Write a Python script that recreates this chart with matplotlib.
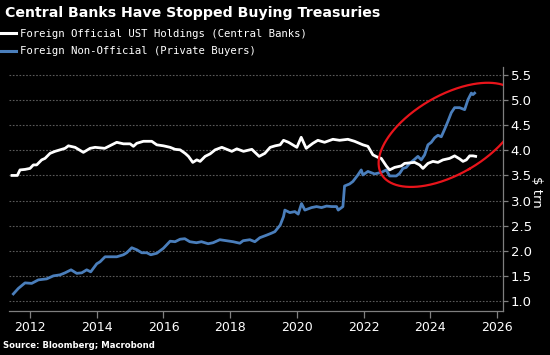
import numpy as np
import matplotlib
matplotlib.use("Agg")
import matplotlib.pyplot as plt

# ---- data ----
official_years = [2011.46, 2011.62, 2011.70, 2011.85, 2012.00, 2012.10, 2012.20, 2012.35, 2012.45, 2012.60,
                  2012.75, 2012.90, 2013.05, 2013.15, 2013.35, 2013.60, 2013.80, 2013.95, 2014.24, 2014.45,
                  2014.60, 2014.80, 2015.00, 2015.10, 2015.20, 2015.40, 2015.65, 2015.80, 2016.00, 2016.20,
                  2016.35, 2016.50, 2016.65, 2016.75, 2016.88, 2017.00, 2017.10, 2017.25, 2017.40, 2017.55,
                  2017.75, 2017.90, 2018.05, 2018.20, 2018.40, 2018.65, 2018.87, 2019.04, 2019.20, 2019.35,
                  2019.50, 2019.60, 2019.75, 2020.00, 2020.13, 2020.28, 2020.48, 2020.63, 2020.83, 2021.08,
                  2021.28, 2021.53, 2021.73, 2021.98, 2022.13, 2022.28, 2022.43, 2022.53, 2022.68, 2022.78,
                  2022.93, 2023.13, 2023.23, 2023.53, 2023.68, 2023.78, 2023.93, 2024.08, 2024.23, 2024.38,
                  2024.58, 2024.73, 2024.88, 2024.98, 2025.08, 2025.18, 2025.28, 2025.36]
official_vals = [3.50, 3.50, 3.61, 3.62, 3.64, 3.71, 3.71, 3.81, 3.84, 3.94,
                 3.98, 4.01, 4.04, 4.09, 4.06, 3.96, 4.04, 4.06, 4.04, 4.11,
                 4.16, 4.13, 4.13, 4.08, 4.14, 4.18, 4.18, 4.11, 4.09, 4.06,
                 4.02, 4.01, 3.94, 3.88, 3.76, 3.81, 3.78, 3.88, 3.93, 4.01,
                 4.06, 4.02, 3.98, 4.03, 3.98, 4.02, 3.88, 3.94, 4.06, 4.09,
                 4.11, 4.20, 4.16, 4.06, 4.26, 4.04, 4.14, 4.20, 4.16, 4.22,
                 4.20, 4.22, 4.18, 4.11, 4.08, 3.91, 3.86, 3.84, 3.69, 3.61,
                 3.66, 3.69, 3.74, 3.76, 3.71, 3.64, 3.74, 3.78, 3.76, 3.81,
                 3.84, 3.89, 3.83, 3.78, 3.81, 3.89, 3.89, 3.88]

private_years = [2011.50, 2011.65, 2011.85, 2012.05, 2012.25, 2012.50, 2012.70, 2012.90, 2013.05, 2013.23,
                 2013.40, 2013.55, 2013.70, 2013.82, 2014.00, 2014.10, 2014.25, 2014.40, 2014.60, 2014.80,
                 2014.90, 2015.05, 2015.20, 2015.35, 2015.50, 2015.62, 2015.80, 2016.00, 2016.20, 2016.35,
                 2016.50, 2016.64, 2016.79, 2016.99, 2017.14, 2017.34, 2017.49, 2017.69, 2017.89, 2018.09,
                 2018.29, 2018.39, 2018.59, 2018.74, 2018.89, 2019.09, 2019.24, 2019.34, 2019.50, 2019.60,
                 2019.64, 2019.79, 2019.94, 2020.04, 2020.14, 2020.24, 2020.44, 2020.59, 2020.74, 2020.89,
                 2021.04, 2021.19, 2021.24, 2021.38, 2021.43, 2021.58, 2021.68, 2021.83, 2021.93, 2021.98,
                 2022.13, 2022.33, 2022.53, 2022.68, 2022.78, 2022.98, 2023.08, 2023.18, 2023.28, 2023.38,
                 2023.51, 2023.63, 2023.73, 2023.83, 2023.93, 2024.03, 2024.13, 2024.23, 2024.33, 2024.43,
                 2024.53, 2024.63, 2024.73, 2024.88, 2025.03, 2025.13, 2025.23, 2025.28, 2025.33]
private_vals = [1.14, 1.25, 1.36, 1.35, 1.42, 1.44, 1.50, 1.52, 1.56, 1.62,
                1.55, 1.56, 1.62, 1.58, 1.74, 1.78, 1.88, 1.88, 1.88, 1.92,
                1.96, 2.06, 2.02, 1.96, 1.96, 1.92, 1.95, 2.05, 2.19, 2.18,
                2.23, 2.24, 2.18, 2.16, 2.18, 2.14, 2.16, 2.22, 2.20, 2.18,
                2.15, 2.20, 2.22, 2.18, 2.26, 2.31, 2.35, 2.38, 2.51, 2.68,
                2.81, 2.76, 2.78, 2.73, 2.94, 2.81, 2.86, 2.88, 2.86, 2.89,
                2.88, 2.88, 2.81, 2.88, 3.29, 3.33, 3.38, 3.51, 3.61, 3.51,
                3.58, 3.53, 3.56, 3.61, 3.49, 3.49, 3.54, 3.64, 3.66, 3.74,
                3.81, 3.88, 3.81, 3.91, 4.11, 4.16, 4.25, 4.30, 4.27, 4.42,
                4.58, 4.75, 4.85, 4.85, 4.81, 5.01, 5.14, 5.11, 5.14]

x_ticks = [2012, 2014, 2016, 2018, 2020, 2022, 2024, 2026]
y_ticks = [1.0, 1.5, 2.0, 2.5, 3.0, 3.5, 4.0, 4.5, 5.0, 5.5]

title = "Central Banks Have Stopped Buying Treasuries"
label_official = "Foreign Official UST Holdings (Central Banks)"
label_private = "Foreign Non-Official (Private Buyers)"
source = "Source: Bloomberg; Macrobond"
unit = "$ trn"

# ---- figure ----
W, H = 550, 355
fig = plt.figure(figsize=(W / 100, H / 100), dpi=100, facecolor="black")
ax = fig.add_axes([9 / W, 1 - 311 / H, (503 - 9) / W, (311 - 67) / H])
ax.set_facecolor("black")

blue = "#4a7ebb"
l2, = ax.plot(private_years, private_vals, color=blue, lw=2.0, solid_joinstyle="round", zorder=3)
l1, = ax.plot(official_years, official_vals, color="white", lw=2.0, solid_joinstyle="round", zorder=4)

ax.set_xlim(2011.37, 2026.18)
ax.set_ylim(0.80, 5.66)

ax.set_xticks(x_ticks)
ax.set_xticklabels([str(t) for t in x_ticks])
ax.set_yticks(y_ticks)
ax.set_yticklabels([f"{t:.1f}" for t in y_ticks])
ax.yaxis.tick_right()
ax.yaxis.set_label_position("right")

spine_c = "#7f7f7f"
for s in ["left", "top"]:
    ax.spines[s].set_visible(False)
for s in ["bottom", "right"]:
    ax.spines[s].set_color(spine_c)
    ax.spines[s].set_linewidth(0.9)

ax.tick_params(axis="x", colors=spine_c, length=5, width=0.9, labelcolor="white",
               labelsize=9, pad=2)
ax.tick_params(axis="y", colors=spine_c, length=3.5, width=0.9, labelcolor="white",
               labelsize=9.5, pad=2)

ax.grid(axis="y", color="#5a5a5a", linestyle=(0, (1.5, 1.5)), linewidth=0.8)
ax.set_axisbelow(True)

ax.set_ylabel(unit, color="white", fontsize=9.5, rotation=270, labelpad=8)
ax.yaxis.label.set_position((1, 0.49))

# ---- red ellipse annotation: conic fitted through outline points (pixel geometry) ----
ring_px = np.array([(378, 167), (380, 155), (385, 143), (392, 133), (402, 122), (415, 110),
                    (432, 98), (452, 90), (472, 85), (492, 83), (502, 85),
                    (382, 175), (392, 183), (405, 187), (422, 187), (442, 181),
                    (462, 172), (482, 160), (502, 145)], float)
ox, oy, sc = 450.0, 135.0, 100.0
xs = (ring_px[:, 0] - ox) / sc
ys = (ring_px[:, 1] - oy) / sc
Dm = np.column_stack([xs ** 2, xs * ys, ys ** 2, xs, ys, np.ones_like(xs)])
_, _, vt = np.linalg.svd(Dm)
A, B, C, Dc, Ec, Fc = vt[-1]
x0, y0 = np.linalg.solve([[2 * A, B], [B, 2 * C]], [-Dc, -Ec])
Fp = A * x0 ** 2 + B * x0 * y0 + C * y0 ** 2 + Dc * x0 + Ec * y0 + Fc
lam, vec = np.linalg.eigh(np.array([[A, B / 2], [B / 2, C]]))
r = np.sqrt(-Fp / lam)
t = np.linspace(0, 2 * np.pi, 400)
ex = x0 + r[0] * np.cos(t) * vec[0, 0] + r[1] * np.sin(t) * vec[0, 1]
ey = y0 + r[0] * np.cos(t) * vec[1, 0] + r[1] * np.sin(t) * vec[1, 1]
px = ex * sc + ox
py = ey * sc + oy
dat = ax.transData.inverted().transform(np.column_stack([px, H - py]))
ax.plot(dat[:, 0], dat[:, 1], color="#e8141b", lw=1.6, zorder=5, clip_on=True)

# ---- texts ----
fig.text(5 / W, 1 - 12.5 / H, title, color="white", fontsize=10.2, fontweight="bold",
         va="center", ha="left")
fig.text(3 / W, 1 - 345 / H, source, color="white", fontsize=6.1, fontweight="bold",
         va="center", ha="left")

leg = fig.legend([l1, l2], [label_official, label_private], loc="upper left",
                 bbox_to_anchor=(1 / W, 1 - 29 / H), frameon=False,
                 prop={"family": "DejaVu Sans Mono", "size": 7.7},
                 handlelength=1.4, handletextpad=0.35, borderpad=0, borderaxespad=0,
                 labelspacing=0.68)
for txt in leg.get_texts():
    txt.set_color("white")
for h in leg.legend_handles:
    h.set_linewidth(2.2)

fig.savefig("out.png", dpi=100, facecolor="black")
